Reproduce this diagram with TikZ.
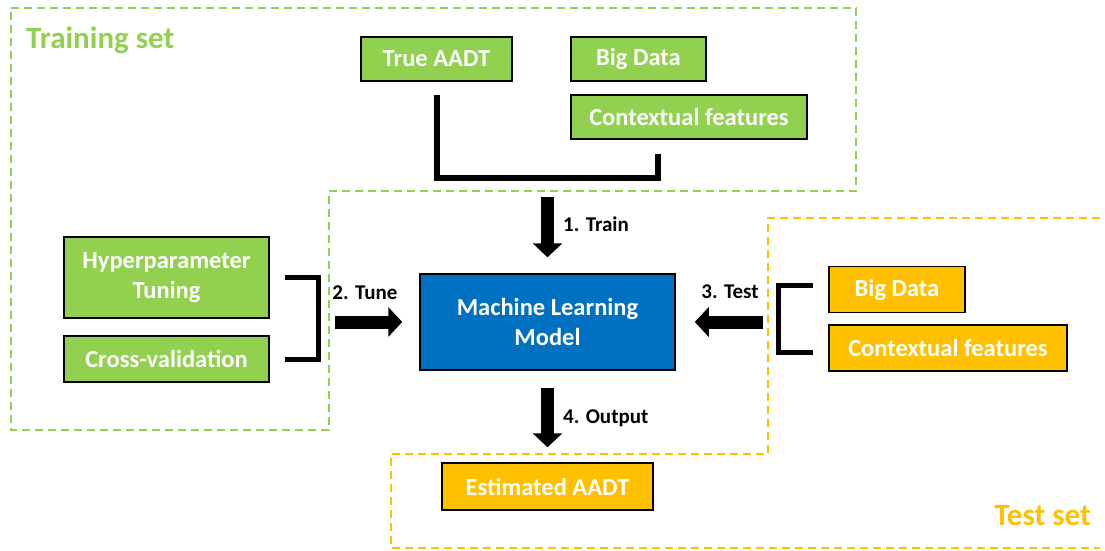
\documentclass[tikz,border=0pt]{standalone}
\usepackage{fontspec}
\setmainfont{Carlito}
\usetikzlibrary{arrows.meta}

\definecolor{tgreen}{HTML}{92D050}
\definecolor{torange}{HTML}{FFC000}
\definecolor{tblue}{HTML}{0070C0}

\tikzset{
  box/.style={draw=black, line width=1.5pt, text=white, align=center, inner sep=0pt,
    font=\fontsize{24.5}{30}\selectfont\bfseries, minimum height=44pt},
  greenbox/.style={box, fill=tgreen},
  orangebox/.style={box, fill=torange},
  steplabel/.style={font=\fontsize{21}{25}\selectfont\bfseries, inner sep=0pt},
  settitle/.style={font=\fontsize{31}{36}\selectfont\bfseries, inner sep=0pt},
  bracket/.style={line width=5pt, line join=miter},
  blockarrow/.style={line width=13pt, -{Triangle[width=29pt,length=14pt]}},
  frame/.style={line width=1.5pt, dash pattern=on 8pt off 5pt}
}

\begin{document}
\begin{tikzpicture}[x=1pt,y=-1pt]
    \useasboundingbox (0,0) rectangle (1105,550);

    % Set frames
    \draw[frame, draw=tgreen] (11,8) -- (856,8) -- (856,191) -- (329,191) -- (329,430) -- (11,430) -- cycle;
    \draw[frame, draw=torange] (1100,218) -- (768,218) -- (768,454) -- (391,454) -- (391,548) -- (1100,548);

    \node[settitle, text=tgreen, anchor=west] (traintitle) at (26,40) {Training set};
    \node[settitle, text=torange, anchor=east] (testtitle) at (1091,516) {Test set};

    % Boxes
    \node[greenbox, minimum width=151pt] (true) at (436.5,59) {True AADT};
    \node[greenbox, minimum width=135pt] (bigA) at (638.5,59) {Big Data};
    \node[greenbox, minimum width=236pt] (ctxA) at (689,117) {Contextual features};
    \node[greenbox, minimum width=205pt, minimum height=81pt] (hyper) at (166.5,277.5) {Hyperparameter\\Tuning};
    \node[greenbox, minimum width=205pt, minimum height=46pt] (cross) at (166.5,359) {Cross-validation};
    \node[box, fill=tblue, minimum width=255pt, minimum height=96pt] (mlm) at (547.5,322) {Machine Learning\\Model};
    \node[orangebox, minimum width=136pt, minimum height=46pt] (bigB) at (897,289.5) {Big Data};
    \node[orangebox, minimum width=238pt, minimum height=46pt] (ctxB) at (948,348) {Contextual features};
    \node[orangebox, minimum width=211pt, minimum height=47pt] (est) at (547.5,486.5) {Estimated AADT};

    % Brackets
    \coordinate (trainjoin) at (547.5,178);
    \coordinate (tunejoin) at (318,322);
    \coordinate (testjoin) at (778,322);
    \draw[bracket, line width=6pt] ([yshift=-13pt]true.south) |- (trainjoin) -| ([xshift=-31pt,yshift=-14pt]ctxA.south);
    \draw[bracket] ([xshift=15pt]hyper.east) -| (tunejoin) |- ([xshift=15pt]cross.east);
    \draw[bracket] ([xshift=-15pt,yshift=4pt]bigB.west) -| (testjoin) |- ([xshift=-15pt,yshift=-4pt]ctxB.west);

    % Arrows
    \draw[blockarrow] ([yshift=-19pt]trainjoin) -- ([yshift=16pt]mlm.north);
    \draw[blockarrow] ([xshift=17pt]tunejoin) -- ([xshift=-17pt]mlm.west);
    \draw[blockarrow] ([xshift=-15pt]testjoin) -- ([xshift=19pt]mlm.east);
    \draw[blockarrow] ([yshift=-17pt]mlm.south) -- ([yshift=15pt]est.north);

    \node[steplabel, anchor=west] (trainlbl) at (563,224) {1. Train};
    \node[steplabel] (tunelbl) at (365,293) {2. Tune};
    \node[steplabel] (testlbl) at (730,292) {3. Test};
    \node[steplabel, anchor=west] (outlbl) at (563,418) {4. Output};
\end{tikzpicture}
\end{document}
